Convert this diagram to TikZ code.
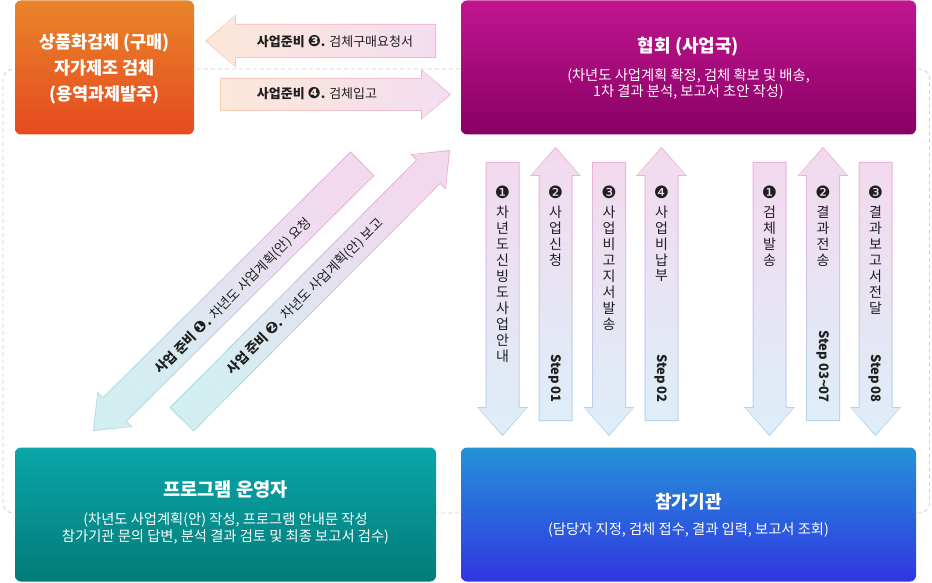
\documentclass[tikz,border=0pt]{standalone}
\usepackage{fontspec}
\setmainfont{Noto Sans CJK KR}
\newfontfamily\dv{DejaVu Sans}
\newcommand\cnum[1]{{\dv\fontsize{15.5}{15}\selectfont #1}}
\usetikzlibrary{calc}
\definecolor{orgT}{HTML}{E8852A}
\definecolor{orgB}{HTML}{E64A1F}
\definecolor{purT}{HTML}{C21590}
\definecolor{purB}{HTML}{880064}
\definecolor{teaT}{HTML}{0AA6AA}
\definecolor{teaB}{HTML}{047B77}
\definecolor{bluT}{HTML}{2592D8}
\definecolor{bluB}{HTML}{3036E2}
\definecolor{hpeach}{HTML}{FCE7D9}
\definecolor{hpink}{HTML}{F4DDF0}
\definecolor{hpeachB}{HTML}{F6CDB3}
\definecolor{hpinkB}{HTML}{EBB5DD}
\definecolor{vpink}{HTML}{F3D9EE}
\definecolor{vblue}{HTML}{DDEEF8}
\definecolor{vpinkB}{HTML}{EAB0D7}
\definecolor{vblueB}{HTML}{B3D3EA}
\definecolor{dcyan}{HTML}{D3EEF1}
\definecolor{dcyanB}{HTML}{A9DCE3}
\definecolor{frameC}{HTML}{CFCFCF}
\definecolor{txt}{HTML}{1F1F1F}

% #1 tail, #2 tip, #3 half body width, #4 half head width, #5 head length, #6 style
\newcommand\arrowshape[6]{%
  \coordinate (aH) at ($(#2)!#5 pt!(#1)$);
  \path[#6] ($(#1)!#3 pt!90:(#2)$) -- ($(aH)!#3 pt!-90:(#1)$) -- ($(aH)!#4 pt!-90:(#1)$)
    -- (#2) -- ($(aH)!#4 pt!90:(#1)$) -- ($(aH)!#3 pt!90:(#1)$) -- ($(#1)!#3 pt!-90:(#2)$) -- cycle;}
% #1 tail, #2 tip, #3 w, #4 h, #5 a, #6 border style, #7 fill style, #8 name
\newcommand\fatarrow[8]{%
  \coordinate (#8-it) at ($(#1)!1pt!(#2)$);
  \coordinate (#8-ip) at ($(#2)!1.6pt!(#1)$);
  \pgfmathsetmacro\aw{#3-1}\pgfmathsetmacro\ah{#4-1.5}\pgfmathsetmacro\aa{#5-2.6}%
  \arrowshape{#1}{#2}{#3}{#4}{#5}{#6}%
  \arrowshape{#8-it}{#8-ip}{\aw}{\ah}{\aa}{#7}}

\begin{document}
\begin{tikzpicture}[x=1pt,y=-1pt,
  boxS/.style={rounded corners=6pt, inner sep=0pt, outer sep=0pt},
  title/.style={text=white, font=\fontsize{18}{22}\selectfont\bfseries, align=center},
  otitle/.style={text=white, font=\fontsize{17.5}{26}\selectfont\bfseries, align=center},
  sub/.style={text=white, font=\fontsize{14.3}{16.5}\selectfont, align=center},
  atext/.style={text=txt, font=\fontsize{13}{15}\selectfont, inner sep=0pt},
  dtext/.style={text=txt, font=\fontsize{13.3}{15}\selectfont, inner sep=0pt, rotate=45},
  vch/.style={text=txt, font=\fontsize{14}{16}\selectfont, inner sep=0pt},
  vnum/.style={text=txt, font=\fontsize{17}{17}\selectfont\dv, inner sep=0pt},
  steptxt/.style={text=txt, font=\fontsize{13}{16}\selectfont\bfseries, inner sep=0pt, rotate=-90, anchor=east},
  vout/.style={top color=vpinkB, bottom color=vblueB},
  vin/.style={top color=vpink, bottom color=vblue},
  hout/.style={left color=hpeachB, right color=hpinkB},
  hin/.style={left color=hpeach, right color=hpink},
  dout/.style={top color=vpinkB, bottom color=dcyanB, shading angle=-45},
  din/.style={top color=vpink, bottom color=dcyan, shading angle=-45}]
\useasboundingbox (0,0) rectangle (932,583);

% dashed frame
\draw[frameC, line width=0.8pt, dash pattern=on 4pt off 3pt, rounded corners=10pt] (3,69) rectangle (929.5,513);

% boxes
\node[boxS, top color=orgT, bottom color=orgB, minimum width=179pt, minimum height=134pt] (org) at (104.5,67.5) {};
\node[boxS, top color=purT, bottom color=purB, minimum width=455pt, minimum height=134pt] (pur) at (688.5,67.5) {};
\node[boxS, top color=teaT, bottom color=teaB, minimum width=421pt, minimum height=134pt] (tea) at (225.5,514.5) {};
\node[boxS, top color=bluT, bottom color=bluB, minimum width=455pt, minimum height=134pt] (blu) at (688.5,514.5) {};

\node[otitle] (orgtxt) at (104.5,69) {상품화검체 (구매)\\자가제조 검체\\(용역과제발주)};
\node[title] (purtitle) at (688.5,47) {협회 (사업국)};
\node[sub] (pursub) at (688.5,84) {(차년도 사업계획 확정, 검체 확보 및 배송,\\1차 결과 분석, 보고서 초안 작성)};
\node[title, font=\fontsize{18.7}{22}\selectfont\bfseries] (teatitle) at (225.5,490) {프로그램 운영자};
\node[sub, font=\fontsize{14.3}{17}\selectfont] (teasub) at (225.5,528.5) {(차년도 사업계획(안) 작성, 프로그램 안내문 작성\\참가기관 문의 답변, 분석 결과 검토 및 최종 보고서 검수)};
\node[title] (blutitle) at (688.5,502) {참가기관};
\node[sub] (blusub) at (688.5,530) {(담당자 지정, 검체 접수, 결과 입력, 보고서 조회)};

% horizontal arrows
\coordinate (h3T) at (436,41); \coordinate (h3P) at (205,41);
\fatarrow{h3T}{h3P}{17}{26.5}{31}{hout}{hin}{h3}
\coordinate (h4T) at (220,94.5); \coordinate (h4P) at (451,94.5);
\fatarrow{h4T}{h4P}{16.5}{25.5}{30}{hout}{hin}{h4}
\node[atext] (h3txt) at (335,42) {\textbf{사업준비 \cnum{❸}.} 검체구매요청서};
\node[atext] (h4txt) at (317,94) {\textbf{사업준비 \cnum{❹}.} 검체입고};

% diagonal arrows
\coordinate (d1T) at (362.5,163.5); \coordinate (d1P) at (93,431);
\fatarrow{d1T}{d1P}{17}{25}{31}{dout}{din}{d1}
\coordinate (d2T) at (181.5,419.5); \coordinate (d2P) at (450,150);
\fatarrow{d2T}{d2P}{17}{25}{31}{dout}{din}{d2}
\node[dtext] (d1txt) at (233.5,296) {\textbf{사업 준비 \cnum{❶}.} 차년도 사업계획(안) 요청};
\node[dtext] (d2txt) at (305,296.5) {\textbf{사업 준비 \cnum{❷}.} 차년도 사업계획(안) 보고};

% vertical arrows
\foreach \n/\x/\d in {v1/502.5/1, v2/555.5/0, v3/609/1, v4/661.5/0, v5/769.5/1, v6/823/0, v7/875.5/1}{
  \ifnum\d=1
    \coordinate (\n T) at (\x,162); \coordinate (\n P) at (\x,436);
  \else
    \coordinate (\n T) at (\x,421); \coordinate (\n P) at (\x,147);
  \fi
  \fatarrow{\n T}{\n P}{17}{25.5}{29}{vout}{vin}{\n}
}

\node[vnum] (v1n) at (502.5,192) {❶};
\node[vnum] (v2n) at (555.5,192) {❷};
\node[vnum] (v3n) at (609,192) {❸};
\node[vnum] (v4n) at (661.5,192) {❹};
\node[vnum] (v5n) at (769.5,192) {❶};
\node[vnum] (v6n) at (823,192) {❷};
\node[vnum] (v7n) at (875.5,192) {❸};

\foreach \c [count=\i] in {차,년,도,신,빙,도,사,업,안,내} \node[vch] (v1c\i) at (502.5,196+16*\i) {\c};
\foreach \c [count=\i] in {사,업,신,청} \node[vch] (v2c\i) at (555.5,196+16*\i) {\c};
\foreach \c [count=\i] in {사,업,비,고,지,서,발,송} \node[vch] (v3c\i) at (609,196+16*\i) {\c};
\foreach \c [count=\i] in {사,업,비,납,부} \node[vch] (v4c\i) at (661.5,196+16*\i) {\c};
\foreach \c [count=\i] in {검,체,발,송} \node[vch] (v5c\i) at (769.5,196+16*\i) {\c};
\foreach \c [count=\i] in {결,과,전,송} \node[vch] (v6c\i) at (823,196+16*\i) {\c};
\foreach \c [count=\i] in {결,과,보,고,서,전,달} \node[vch] (v7c\i) at (875.5,196+16*\i) {\c};

\node[steptxt] (s2) at (555.5,403) {Step 01};
\node[steptxt] (s4) at (661.5,403) {Step 02};
\node[steptxt] (s6) at (823,403) {Step 03\textasciitilde07};
\node[steptxt] (s7) at (875.5,403) {Step 08};
\end{tikzpicture}
\end{document}
